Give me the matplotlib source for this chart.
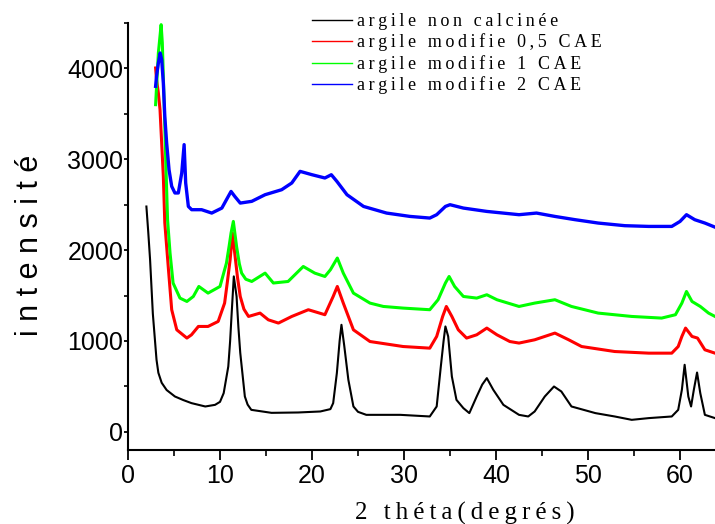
import matplotlib
matplotlib.use('Agg')
import matplotlib.pyplot as plt
from matplotlib.ticker import MultipleLocator

tt_brute = [2.0, 2.2, 2.4, 2.7, 3.1, 3.3, 3.66, 4.2, 5.1, 6.0, 6.9, 8.4, 9.46, 10.0, 10.4, 10.9, 11.1,
            11.27, 11.5, 11.8, 12.0, 12.2, 12.7, 13.0, 13.4, 15.6, 18.5, 20.9, 22.0, 22.3, 22.7, 23.0,
            23.2, 23.5, 23.95, 24.5, 25.0, 25.9, 29.6, 32.8, 33.55, 34.0, 34.3, 34.5, 34.8, 35.2,
            35.7, 36.45, 37.1, 37.9, 38.5, 39.0, 39.7, 40.8, 42.5, 43.5, 44.2, 45.3, 46.3, 47.1,
            48.2, 50.8, 52.9, 54.75, 56.6, 59.1, 59.8, 60.2, 60.5, 60.9, 61.2, 61.5, 61.85, 62.2,
            62.7, 63.8]
I_brute = [2480, 2200, 1894, 1300, 793, 650, 540, 460, 389, 350, 316, 279, 297, 330, 426, 719, 1000,
           1310, 1711, 1490, 1150, 870, 389, 300, 242, 209, 213, 224, 250, 316, 646, 1000,
           1178, 950, 573, 279, 220, 187, 187, 169, 279, 719, 1000, 1160, 1050, 609,
           352, 261, 206, 389, 520, 591, 463, 297, 187, 169, 224, 389, 499, 444,
           279, 206, 169, 132, 151, 169, 242, 463, 738, 389, 279, 463, 653, 426,
           187, 151]

tt_05 = [3.0, 3.1, 3.3, 3.48, 3.66, 3.84, 4.0, 4.4, 4.75, 5.3, 6.4, 6.9, 7.65, 8.7, 9.8, 10.5, 10.8,
         11.1, 11.35, 11.6, 11.9, 12.2, 12.6, 13.1, 14.35, 15.25, 16.35, 17.8, 19.6, 21.4, 22.3,
         22.75, 23.4, 24.5, 26.3, 29.9, 32.8, 33.55, 34.2, 34.6, 35.2, 35.9, 36.8, 37.9, 39.0,
         40.1, 41.5, 42.5, 44.2, 46.4, 47.9, 49.3, 52.9, 56.6, 59.1, 59.8, 60.2, 60.6, 61.3,
         61.9, 62.7, 63.8]
I_05 = [4005, 3877, 3730, 3546, 3179, 2812, 2300, 1784, 1344, 1123, 1032, 1068, 1160, 1160, 1215, 1417, 1650,
        1894, 2188, 1968, 1700, 1490, 1350, 1270, 1307, 1233, 1197, 1270, 1344, 1289, 1490,
        1600, 1417, 1123, 994, 939, 921, 1050, 1270, 1380, 1270, 1123, 1032, 1068, 1142,
        1068, 994, 977, 1013, 1087, 1013, 939, 884, 866, 866, 939, 1050, 1142, 1050,
        1032, 903, 866]

tt_1 = [3.0, 3.3, 3.6, 3.73, 3.95, 4.1, 4.3, 4.57, 4.9, 5.65, 6.4, 7.1, 7.7, 8.7, 10.0, 10.7, 11.0,
        11.2, 11.45, 11.8, 12.1, 12.35, 12.8, 13.45, 14.9, 15.8, 17.4, 19.05, 20.3, 21.4, 22.0,
        22.75, 23.4, 24.5, 26.3, 27.75, 29.9, 32.8, 33.7, 34.5, 34.9, 35.5, 36.45, 37.9, 39.0,
        40.1, 42.5, 44.2, 46.4, 48.2, 51.1, 54.75, 58.0, 59.5, 60.2, 60.7, 61.3, 62.2, 63.1,
        63.8]
I_1 = [3601, 4170, 4482, 4281, 3546, 2996, 2335, 1968, 1638, 1472, 1435, 1490, 1600, 1527, 1600, 1857, 2050,
       2188, 2316, 2041, 1850, 1747, 1680, 1655, 1747, 1638, 1655, 1820, 1747, 1710, 1784,
       1913, 1747, 1527, 1417, 1380, 1362, 1344, 1454, 1638, 1710, 1600, 1490, 1472, 1509,
       1454, 1380, 1417, 1454, 1380, 1307, 1270, 1252, 1289, 1417, 1545, 1435, 1380, 1307,
       1270]

tt_2 = [3.0, 3.1, 3.3, 3.5, 3.66, 3.84, 4.0, 4.2, 4.46, 4.75, 5.1, 5.47, 5.84, 6.1, 6.27, 6.56, 6.92,
        8.0, 9.1, 10.2, 10.7, 11.2, 11.6, 12.2, 13.45, 14.9, 16.7, 17.8, 18.7, 20.0, 21.4, 22.1,
        22.7, 23.8, 25.6, 28.1, 30.65, 32.8, 33.55, 34.5, 35.0, 36.45, 39.0, 42.5, 44.4, 46.4,
        48.6, 51.1, 54.0, 56.6, 59.1, 60.0, 60.7, 61.6, 62.7, 63.8]
I_2 = [3803, 3913, 4060, 4170, 4097, 3840, 3473, 3179, 2885, 2702, 2629, 2629, 2849, 3161, 2739, 2481, 2445,
       2445, 2408, 2463, 2555, 2646, 2592, 2518, 2537, 2610, 2665, 2739, 2867, 2830, 2794, 2830,
       2757, 2610, 2481, 2408, 2371, 2353, 2390, 2481, 2500, 2463, 2426, 2390, 2408, 2371,
       2335, 2298, 2269, 2261, 2261, 2316, 2390, 2335, 2298, 2253]

labels = ['argile non calcinée', 'argile modifie 0,5 CAE', 'argile modifie 1 CAE', 'argile modifie 2 CAE']
colors = ['black', '#ff0000', '#00ff00', '#0000ff']


def spaced(s):
    # lettres espacees comme dans la figure d'origine
    return '\u2009'.join(s)


serif = ['Liberation Serif', 'DejaVu Serif']
plt.rcParams['font.family'] = ['Liberation Sans', 'DejaVu Sans']

fig = plt.figure(figsize=(7.15, 5.24), dpi=100)
ax = fig.add_axes([128 / 715, 1 - 450 / 524, 587 / 715, 427 / 524])

series = [(tt_brute, I_brute), (tt_05, I_05), (tt_1, I_1), (tt_2, I_2)]
lws = [1.5, 2.2, 2.2, 2.4]
for (x, y), c, lab, lw in zip(series, colors, labels, lws):
    ax.plot(x, y, color=c, lw=lw, label=spaced(lab))

ax.set_xlim(0, 63.8)
ax.set_ylim(-200, 4500)
ax.xaxis.set_major_locator(MultipleLocator(10))
ax.xaxis.set_minor_locator(MultipleLocator(5))
ax.yaxis.set_major_locator(MultipleLocator(1000))
ax.yaxis.set_minor_locator(MultipleLocator(500))

for s in ['top', 'right']:
    ax.spines[s].set_visible(False)
for s in ['left', 'bottom']:
    ax.spines[s].set_linewidth(1.5)

ax.tick_params(axis='x', which='major', direction='out', length=7, width=1.3, pad=3, labelsize=18)
ax.tick_params(axis='x', which='minor', direction='out', length=4, width=1.2)
ax.tick_params(axis='y', which='major', direction='out', length=3, width=1.3, pad=0.5, labelsize=18)
ax.tick_params(axis='y', which='minor', direction='out', length=3, width=1.2)

fig.text(30 / 715, 1 - 245 / 524, 'i n t e n s i t é', rotation=90, fontsize=22,
         ha='center', va='center')
fig.text(465 / 715, 1 - 513 / 524, spaced('2 théta(degrés)'), fontsize=18, family=serif,
         ha='center', va='center')

leg = fig.legend(loc='upper left', bbox_to_anchor=(312 / 715, 1 - 13 / 524), frameon=False,
                 prop={'family': serif, 'size': 13}, handlelength=2.2, handletextpad=0.3,
                 labelspacing=0.2, borderpad=0, borderaxespad=0)
for line in leg.get_lines():
    line.set_linewidth(1.0)

fig.savefig('out.png', dpi=100)
